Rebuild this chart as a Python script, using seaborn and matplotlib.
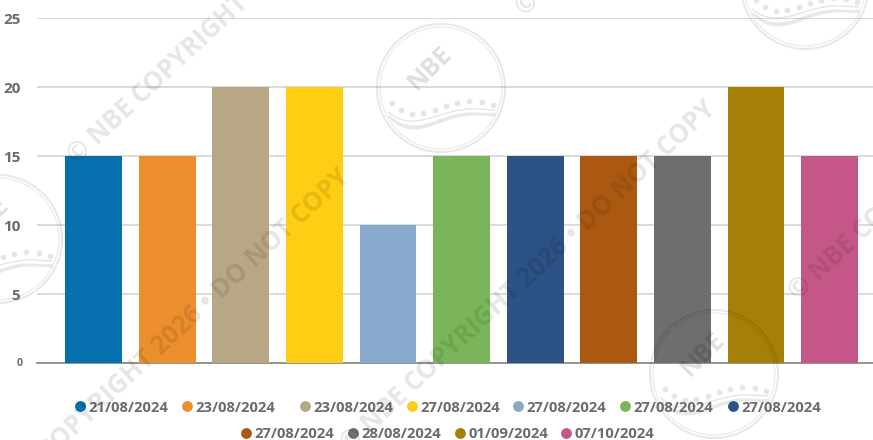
import numpy as np
import pandas as pd
import matplotlib
matplotlib.use("Agg")
import matplotlib.pyplot as plt
from matplotlib.patches import Circle
import seaborn as sns

# chart values
dates = ["21/08/2024", "23/08/2024", "23/08/2024", "27/08/2024", "27/08/2024", "27/08/2024",
         "27/08/2024", "27/08/2024", "28/08/2024", "01/09/2024", "07/10/2024"]
values = [15, 15, 20, 20, 10, 15, 15, 15, 15, 20, 15]
colors = ["#0670AE", "#EB8F2D", "#B8A785", "#FECD14", "#87A9CB", "#7AB659",
          "#2C5286", "#AB5910", "#6E6E6E", "#A57F06", "#C55788"]
y_ticks = [5, 10, 15, 20, 25]

W, H = 873, 440
FONT = "Open Sans"
GREY = "#6b6b6b"

df = pd.DataFrame({"slot": range(len(values)), "value": values})

sns.set_theme(style="white")
plt.rcParams["font.family"] = FONT

fig = plt.figure(figsize=(W / 100, H / 100), dpi=100)
ax = fig.add_axes([37 / W, 1 - 363 / H, 1 - 37 / W, (363 - 18) / H])

sns.barplot(data=df, x="slot", y="value", hue="slot", palette=colors, width=0.772,
            legend=False, saturation=1, linewidth=0, ax=ax, zorder=3)

ax.set_xlim(-0.768, 10.59)
ax.set_ylim(0, 25)
ax.set_xticks([])
ax.set_xlabel("")
ax.set_ylabel("")
ax.set_yticks(y_ticks)
ax.set_yticklabels(y_ticks, fontsize=11, fontweight="bold", color=GREY)
ax.tick_params(axis="y", length=0, pad=12)
ax.grid(axis="y", color="#d4d4d4", linewidth=1.2, zorder=0)
ax.set_axisbelow(True)
sns.despine(ax=ax, left=True, right=True, top=True)
ax.spines["bottom"].set_color("#808080")
ax.spines["bottom"].set_linewidth(1.2)

# overlay in pixel coordinates for legend and watermark
over = fig.add_axes([0, 0, 1, 1], facecolor="none")
over.set_xlim(0, W)
over.set_ylim(H, 0)
over.axis("off")

over.text(20, 364, "0", fontsize=7.5, fontweight="bold", color=GREY, ha="center", va="center")

# legend, two centred rows
leg_x = [80, 187, 305, 412, 518, 625, 733, 246, 353, 460, 566]
leg_y = [406] * 7 + [433] * 4
for x, y, d, c in zip(leg_x, leg_y, dates, colors):
    over.plot([x], [y], "o", color=c, markersize=7.8, markeredgewidth=0)
    over.text(x + 8.5, y, d, fontsize=10.6, fontweight="bold", color=GREY,
              ha="left", va="center_baseline", clip_on=True)

# watermark
wm = "© NBE COPYRIGHT 2026 • DO NOT COPY"
for x, y in [(72, 160), (-21, 516), (345, 448), (520, 12), (793, 296)]:
    over.text(x, y, wm, fontsize=18.5, fontweight="bold", color="#000000", alpha=0.10,
              rotation=43, rotation_mode="anchor", ha="left", va="center", clip_on=True)

# stamp outline, offsets from the stamp centre
dot_dx = [-49, -40, -29, -18, -6, 5, 16, 28, 41, 52]
dot_dy = [15, 22, 26, 25, 22, 18, 15, 13, 14, 17]
band_dx = [-53, -41, -28, -11, 6, 29, 54]
band_top = [24, 31, 33, 30, 25, 21, 22]
band_mid = [26, 34, 37, 34, 28, 24, 24]
band_low = [29, 38, 41, 38, 32, 27, 28]


def smooth(xs, ys, t):
    return np.polyval(np.polyfit(xs, ys, 5), t)


def stamp(cx, cy):
    for r, lw in [(64, 1.5), (61, 0.8)]:
        over.add_patch(Circle((cx, cy), r, fill=False, ec="#000000", lw=lw, alpha=0.09))
    over.text(cx - 11, cy - 20, "NBE", fontsize=18, fontweight="bold", color="#000000", alpha=0.13,
              rotation=45, ha="center", va="center", clip_on=True)
    t = np.linspace(-53, 54, 80)
    over.plot(cx + t, cy + smooth(band_dx, band_top, t), color="#000000", lw=1.0, alpha=0.10)
    over.fill_between(cx + t, cy + smooth(band_dx, band_mid, t), cy + smooth(band_dx, band_low, t),
                      color="#000000", lw=0, alpha=0.09)
    over.plot(cx + np.array(dot_dx), cy + np.array(dot_dy), "o", color="#000000", ms=4.2, mew=0, alpha=0.10,
              linestyle="none")


for cx, cy in [(441, 88), (-2, 239), (714, 374), (805, -15)]:
    stamp(cx, cy)

over.set_xlim(0, W)
over.set_ylim(H, 0)

fig.savefig("out.png", dpi=100, facecolor="white")
